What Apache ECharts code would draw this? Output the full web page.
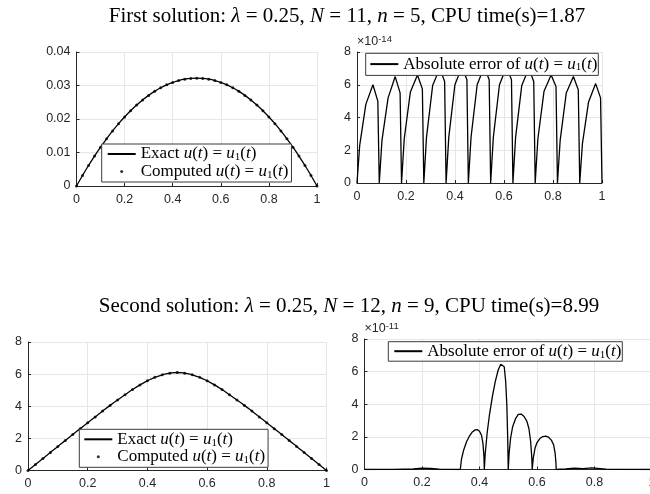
<!DOCTYPE html>
<html>
<head>
    <meta charset="utf-8">
    <title>Bratu solutions</title>
    <script src="https://cdn.jsdelivr.net/npm/echarts@6/dist/echarts.min.js"></script>
    <style>
        html, body { margin: 0; padding: 0; background: #fff; }
        #chart { width: 650px; height: 494px; }
    </style>
</head>
<body>
<div id="chart"></div>
<script>
    // sample points on [0,1] used by both solution plots
    var tSample = [0, 0.025, 0.05, 0.075, 0.1, 0.125, 0.15, 0.175, 0.2, 0.225,
        0.25, 0.275, 0.3, 0.325, 0.35, 0.375, 0.4, 0.425, 0.45, 0.475,
        0.5, 0.525, 0.55, 0.575, 0.6, 0.625, 0.65, 0.675, 0.7, 0.725,
        0.75, 0.775, 0.8, 0.825, 0.85, 0.875, 0.9, 0.925, 0.95, 0.975, 1];

    // first solution u(t)
    var uFirst = [0, 0.00314, 0.00612, 0.00894, 0.01159, 0.01409, 0.01642, 0.0186, 0.02061, 0.02246,
        0.02415, 0.02568, 0.02705, 0.02826, 0.0293, 0.03019, 0.03091, 0.03148, 0.03188, 0.03212,
        0.0322, 0.03212, 0.03188, 0.03148, 0.03091, 0.03019, 0.0293, 0.02826, 0.02705, 0.02568,
        0.02415, 0.02246, 0.02061, 0.0186, 0.01642, 0.01409, 0.01159, 0.00894, 0.00612, 0.00314, 0];

    // second solution u(t), bottom left plot
    var uSecond = [0, 0.378, 0.75, 1.124, 1.5, 1.868, 2.24, 2.607, 2.97, 3.336,
        3.7, 4.054, 4.39, 4.72, 5.04, 5.33, 5.58, 5.8, 5.96, 6.06,
        6.1, 6.06, 5.96, 5.8, 5.58, 5.33, 5.04, 4.72, 4.39, 4.054,
        3.7, 3.336, 2.97, 2.607, 2.24, 1.868, 1.5, 1.124, 0.75, 0.378, 0];

    // absolute error, first solution (units of 1e-14)
    var errFirstT = [0, 0.011, 0.036, 0.065, 0.085,
        0.0909, 0.1019, 0.1269, 0.1559, 0.1759,
        0.1818, 0.1928, 0.2178, 0.2468, 0.2668,
        0.2727, 0.2837, 0.3087, 0.3377, 0.3577,
        0.3636, 0.3746, 0.3996, 0.4286, 0.4486,
        0.4545, 0.4655, 0.4905, 0.5195, 0.5395,
        0.5455, 0.5565, 0.5815, 0.6105, 0.6305,
        0.6364, 0.6474, 0.6724, 0.7014, 0.7214,
        0.7273, 0.7383, 0.7633, 0.7923, 0.8123,
        0.8182, 0.8292, 0.8542, 0.8832, 0.9032,
        0.9091, 0.9201, 0.9451, 0.9741, 0.9941, 1];
    var errFirstV = [0, 2.3, 4.8, 6.0, 5.0,
        0, 2.6, 5.2, 6.5, 5.5,
        0, 2.7, 5.55, 6.6, 5.75,
        0, 2.8, 5.95, 7.0, 6.2,
        0, 2.8, 6.0, 7.1, 6.3,
        0, 2.8, 6.0, 7.1, 6.3,
        0, 2.8, 6.0, 7.1, 6.3,
        0, 2.8, 5.95, 7.0, 6.2,
        0, 2.7, 5.6, 6.6, 5.9,
        0, 2.6, 5.5, 6.5, 5.7,
        0, 2.4, 4.95, 6.07, 5.2, 0];

    // absolute error, second solution (units of 1e-11)
    var errSecondT = [0, 0.1, 0.17, 0.2, 0.23, 0.26, 0.3, 0.3333,
        0.337, 0.345, 0.355, 0.365, 0.375, 0.385, 0.392, 0.4, 0.407, 0.412, 0.4155,
        0.4167, 0.42, 0.427, 0.435, 0.445, 0.455, 0.465, 0.474, 0.48, 0.486, 0.491, 0.495, 0.498,
        0.5, 0.503, 0.508, 0.515, 0.525, 0.535, 0.545, 0.555, 0.565, 0.572, 0.578, 0.582,
        0.5833, 0.587, 0.593, 0.6, 0.61, 0.62, 0.63, 0.64, 0.65, 0.658, 0.663, 0.666,
        0.6667, 0.7, 0.73, 0.76, 0.79, 0.81, 0.84, 0.9, 1];
    var errSecondV = [0, 0.01, 0.03, 0.08, 0.06, 0.02, 0.01, 0,
        0.6, 1.2, 1.7, 2.05, 2.3, 2.43, 2.45, 2.35, 2.1, 1.6, 0.8,
        0, 1.0, 2.3, 3.4, 4.5, 5.4, 6.1, 6.45, 6.55, 6.3, 5.4, 4.0, 2.0,
        0, 1.0, 1.9, 2.6, 3.1, 3.38, 3.4, 3.25, 2.95, 2.5, 1.7, 0.7,
        0, 0.7, 1.3, 1.65, 1.9, 2.02, 2.05, 1.98, 1.8, 1.5, 1.0, 0.4,
        0, 0.03, 0.08, 0.05, 0.1, 0.07, 0.02, 0.01, 0];

    function pairs(xs, ys) {
        return xs.map(function (x, i) { return [x, ys[i]]; });
    }

    var AXIS_COLOR = '#262626';
    var GRID_COLOR = '#e6e6e6';
    var SERIF = 'Liberation Serif';
    var SANS = 'Liberation Sans';

    var mathRich = {
        r: {fontFamily: SERIF, fontSize: 17, color: '#000', lineHeight: 18},
        i: {fontFamily: SERIF, fontSize: 17, color: '#000', fontStyle: 'italic', lineHeight: 18},
        s: {fontFamily: SERIF, fontSize: 11, color: '#000', lineHeight: 11, verticalAlign: 'bottom'}
    };
    var titleRich = {
        r: {fontFamily: SERIF, fontSize: 21, fill: '#000'},
        i: {fontFamily: SERIF, fontSize: 21, fill: '#000', fontStyle: 'italic'}
    };
    var uEq = '{i|u}{r|(}{i|t}{r|) = }{i|u}{s|1}{r|(}{i|t}{r|)}';
    var legendText = {
        exact1: '{r|Exact }' + uEq,
        computed1: '{r|Computed }' + uEq,
        exact2: '{r|Exact }' + uEq,
        computed2: '{r|Computed }' + uEq,
        err1: '{r|Absolute error of }' + uEq,
        err2: '{r|Absolute error of }' + uEq
    };

    function xAxisFor(gridIndex) {
        return {
            type: 'value', gridIndex: gridIndex, min: 0, max: 1, interval: 0.2,
            axisLine: {show: true, onZero: false, lineStyle: {color: AXIS_COLOR, width: 1}},
            axisTick: {show: true, inside: true, length: 3, lineStyle: {color: AXIS_COLOR}},
            axisLabel: {color: AXIS_COLOR, fontFamily: SANS, fontSize: 12.5, margin: 7},
            splitLine: {show: true, lineStyle: {color: GRID_COLOR, width: 1}}
        };
    }

    function yAxisFor(gridIndex, max, interval, expo) {
        var axis = {
            type: 'value', gridIndex: gridIndex, min: 0, max: max, interval: interval,
            axisLine: {show: true, onZero: false, lineStyle: {color: AXIS_COLOR, width: 1}},
            axisTick: {show: true, inside: true, length: 3, lineStyle: {color: AXIS_COLOR}},
            axisLabel: {color: AXIS_COLOR, fontFamily: SANS, fontSize: 12.5, margin: 6},
            splitLine: {show: true, lineStyle: {color: GRID_COLOR, width: 1}}
        };
        if (expo) {
            axis.name = '{a|\u00d710}{e|' + expo + '}';
            axis.nameLocation = 'end';
            axis.nameGap = 2;
            axis.nameTextStyle = {
                align: 'left', verticalAlign: 'bottom',
                rich: {
                    a: {fontFamily: SANS, fontSize: 12.5, color: AXIS_COLOR, lineHeight: 16},
                    e: {fontFamily: SANS, fontSize: 9.5, color: AXIS_COLOR, lineHeight: 10, verticalAlign: 'top'}
                }
            };
        }
        return axis;
    }

    // legend entries: line entries hide the legend symbol, dot entries keep it
    function legendFor(names, left, top, padding) {
        return {
            data: names.map(function (n) {
                return n.indexOf('computed') === 0 ? {name: n} : {name: n, itemStyle: {opacity: 0}};
            }),
            left: left, top: top, orient: 'vertical',
            itemWidth: 28, itemHeight: 3, itemGap: 0, padding: padding,
            backgroundColor: '#fff', borderColor: '#3a3a3a', borderWidth: 1,
            selectedMode: false,
            formatter: function (name) { return legendText[name]; },
            textStyle: {rich: mathRich}
        };
    }

    function lineSeries(name, idx, data, smooth) {
        return {
            name: name, type: 'line', xAxisIndex: idx, yAxisIndex: idx, data: data,
            symbol: 'none', smooth: smooth, z: 2,
            lineStyle: {color: '#000', width: 1.3}, itemStyle: {color: '#000'}
        };
    }

    function dotSeries(name, idx, data) {
        return {
            name: name, type: 'scatter', xAxisIndex: idx, yAxisIndex: idx, data: data,
            symbol: 'circle', symbolSize: 3, z: 3,
            itemStyle: {color: '#000'}
        };
    }

    var chart = echarts.init(document.getElementById('chart'));

    chart.setOption({
        backgroundColor: '#fff',
        animation: false,
        grid: [
            {left: 76.5, right: 333, top: 52, bottom: 308, containLabel: false, outerBoundsMode: 'none'},
            {left: 357, right: 48, top: 52, bottom: 311, containLabel: false, outerBoundsMode: 'none'},
            {left: 28, right: 323.5, top: 342, bottom: 23.5, containLabel: false, outerBoundsMode: 'none'},
            {left: 364.5, right: -2, top: 339, bottom: 24.5, containLabel: false, outerBoundsMode: 'none'}
        ],
        xAxis: [xAxisFor(0), xAxisFor(1), xAxisFor(2), xAxisFor(3)],
        yAxis: [
            yAxisFor(0, 0.04, 0.01),
            yAxisFor(1, 8, 2, '-14'),
            yAxisFor(2, 8, 2),
            yAxisFor(3, 8, 2, '-11')
        ],
        legend: [
            legendFor(['exact1', 'computed1'], 101.7, 144, [1.5, 3, 1.5, 5]),
            legendFor(['err1'], 365.7, 53.3, [2.3, 1, 2.3, 3.6]),
            legendFor(['exact2', 'computed2'], 79.3, 429.3, [1.5, 3, 1.5, 4]),
            legendFor(['err2'], 388.3, 341.7, [1, 1, 1, 5])
        ],
        graphic: [
            {
                type: 'text', x: 347, y: 16,
                style: {
                    text: '{r|First solution: }{i|\u03bb}{r| = 0.25, }{i|N}{r| = 11, }{i|n}{r| = 5, CPU time(s)=1.87}',
                    rich: titleRich, align: 'center', verticalAlign: 'middle'
                }
            },
            {
                type: 'text', x: 349, y: 306,
                style: {
                    text: '{r|Second solution: }{i|\u03bb}{r| = 0.25, }{i|N}{r| = 12, }{i|n}{r| = 9, CPU time(s)=8.99}',
                    rich: titleRich, align: 'center', verticalAlign: 'middle'
                }
            }
        ],
        series: [
            lineSeries('exact1', 0, pairs(tSample, uFirst), true),
            dotSeries('computed1', 0, pairs(tSample, uFirst)),
            lineSeries('err1', 1, pairs(errFirstT, errFirstV), false),
            lineSeries('exact2', 2, pairs(tSample, uSecond), true),
            dotSeries('computed2', 2, pairs(tSample, uSecond)),
            lineSeries('err2', 3, pairs(errSecondT, errSecondV), false)
        ]
    });
</script>
</body>
</html>
